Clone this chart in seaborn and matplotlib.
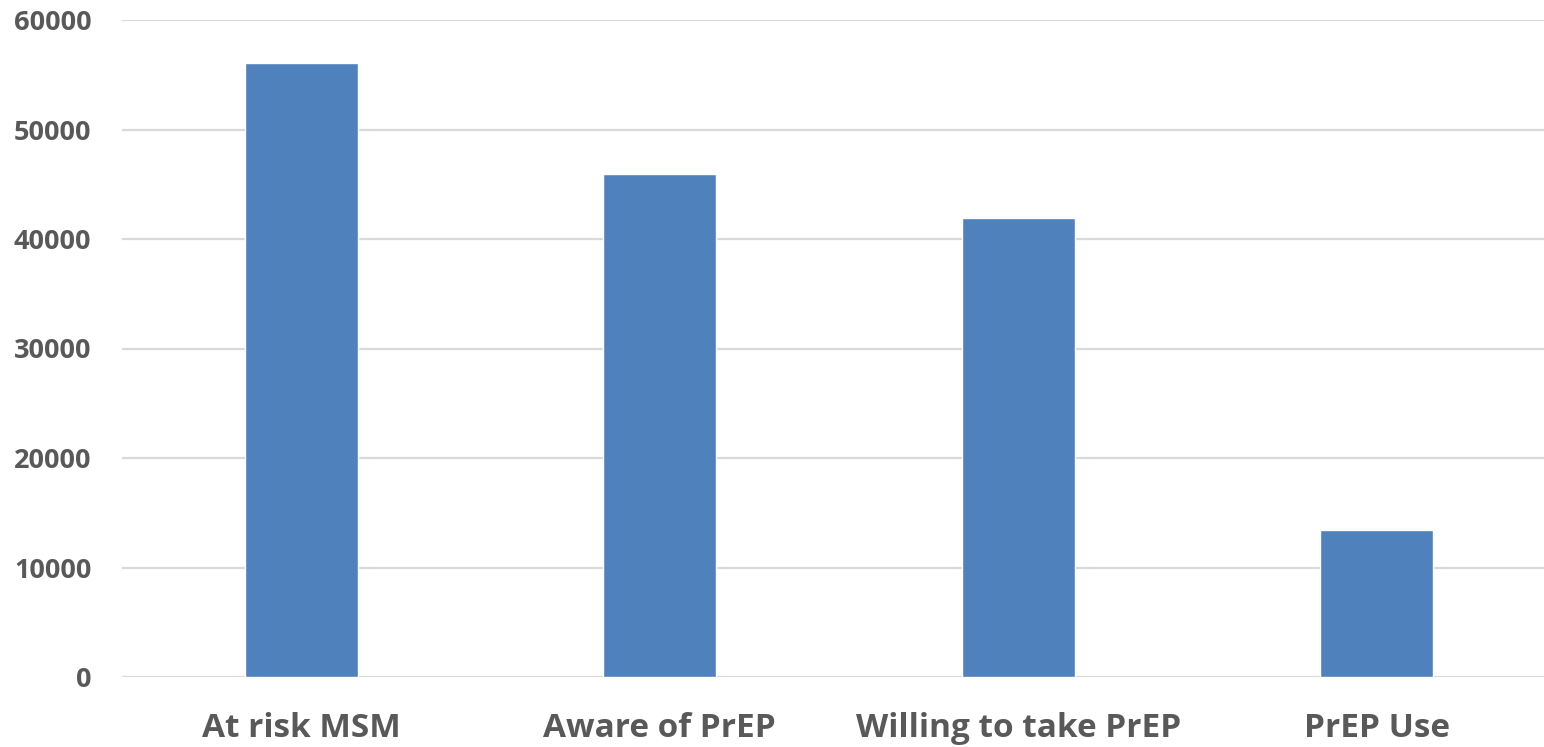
import pandas as pd
import matplotlib.pyplot as plt
import seaborn as sns

# Data
categories = ['At risk MSM', 'Aware of PrEP', 'Willing to take PrEP', 'PrEP Use']
counts = [56100, 45900, 41900, 13400]
y_ticks = [0, 10000, 20000, 30000, 40000, 50000, 60000]

df = pd.DataFrame({'Group': categories, 'Count': counts})

sns.set_style("white")
plt.rcParams['font.family'] = ['Open Sans', 'DejaVu Sans']

text_color = '#595959'
grid_color = '#D9D9D9'

fig = plt.figure(figsize=(15.44, 7.47), dpi=100)
ax = fig.add_axes([122 / 1544, 1 - 677 / 747, 1 - 122 / 1544, (677 - 20) / 747])

sns.barplot(data=df, x='Group', y='Count', color='#4F81BD', width=0.315,
            saturation=1, ax=ax, zorder=3)

ax.set_ylim(0, 60000)
ax.set_xlim(-0.5, 3.466)
ax.set_yticks(y_ticks)
ax.set_yticklabels([str(v) for v in y_ticks])
ax.yaxis.grid(True, color=grid_color, linewidth=1.6, zorder=0)
ax.set_axisbelow(True)

for s in ['top', 'right', 'left', 'bottom']:
    ax.spines[s].set_visible(False)

ax.set_xlabel('')
ax.set_ylabel('')
ax.tick_params(axis='y', length=0, pad=22, labelsize=19.5, labelcolor=text_color)
ax.tick_params(axis='x', length=0, pad=25.5, labelsize=24, labelcolor=text_color)
for lbl in ax.get_yticklabels() + ax.get_xticklabels():
    lbl.set_fontweight('bold')

plt.savefig('out.png', dpi=100)
plt.close()
print("Chart saved")
